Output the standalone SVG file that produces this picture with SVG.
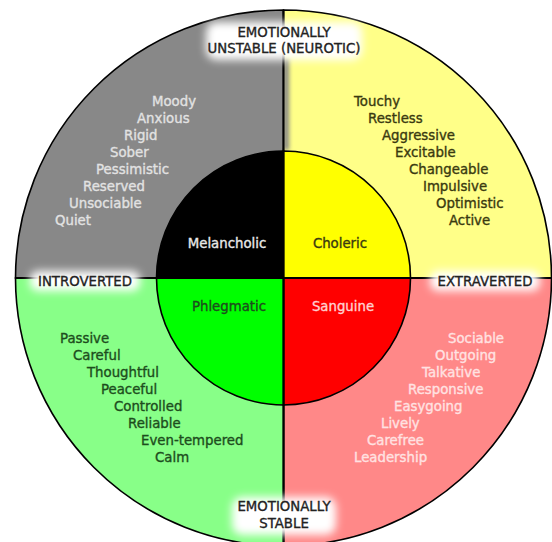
<svg xmlns="http://www.w3.org/2000/svg" width="552" height="542" viewBox="0 0 552 542">
<defs>
<filter id="glow" x="-30%" y="-50%" width="160%" height="200%"><feGaussianBlur stdDeviation="4"/></filter>
<filter id="smudge" x="-100%" y="-20%" width="300%" height="140%"><feGaussianBlur stdDeviation="2"/></filter>
</defs>
<style>
text{font-family:"DejaVu Sans",Verdana,sans-serif;font-size:13.3px;stroke-width:0.35px}
.q{stroke:#000;stroke-width:1.6}
.l{stroke:#000;stroke-width:2;fill:none}
.g{fill:#e2e2e2;stroke:#e2e2e2}
.y{fill:#3a3a10;stroke:#3a3a10}
.gr{fill:#1d4d1d;stroke:#1d4d1d}
.r{fill:#ffe2e2;stroke:#ffe2e2}
.lab{fill:#222;stroke:#222;text-anchor:middle}
.c{text-anchor:middle}
.halo{fill:#fff;filter:url(#glow)}
</style>
<rect width="552" height="542" fill="#fff"/>
<g id="outer">
<path class="q" fill="#888888" d="M283.5,278 L15.5,278 A268,268 0 0 1 283.5,10 Z"/>
<path class="q" fill="#ffff88" d="M283.5,278 L283.5,10 A268,268 0 0 1 551.5,278 Z"/>
<path class="q" fill="#ff8888" d="M283.5,278 L551.5,278 A268,268 0 0 1 283.5,546 Z"/>
<path class="q" fill="#88ff88" d="M283.5,278 L283.5,546 A268,268 0 0 1 15.5,278 Z"/>
<rect x="283" y="58" width="6" height="92" fill="#888888" filter="url(#smudge)"/>
</g>
<g id="inner">
<path class="q" fill="#000" d="M283.5,278 L156.5,278 A127,127 0 0 1 283.5,151 Z"/>
<path class="q" fill="#ffff00" d="M283.5,278 L283.5,151 A127,127 0 0 1 410.5,278 Z"/>
<path class="q" fill="#ff0000" d="M283.5,278 L410.5,278 A127,127 0 0 1 283.5,405 Z"/>
<path class="q" fill="#00ff00" d="M283.5,278 L283.5,405 A127,127 0 0 1 156.5,278 Z"/>
</g>
<g id="connectors">
<line class="l" x1="283.5" y1="10" x2="283.5" y2="542"/>
<line class="l" x1="15.5" y1="278" x2="551.5" y2="278"/>
</g>
<g id="melancholic">
<text class="c g" x="227" y="248" style="fill:#e8e8e8;stroke:#e8e8e8">Melancholic</text>
<text class="g" x="152" y="106">Moody</text>
<text class="g" x="137" y="123">Anxious</text>
<text class="g" x="124" y="140">Rigid</text>
<text class="g" x="110" y="157">Sober</text>
<text class="g" x="96" y="174">Pessimistic</text>
<text class="g" x="83" y="191">Reserved</text>
<text class="g" x="69" y="208">Unsociable</text>
<text class="g" x="55" y="225">Quiet</text>
</g>
<g id="choleric">
<text class="c y" x="340" y="248">Choleric</text>
<text class="y" x="354" y="106">Touchy</text>
<text class="y" x="368" y="123">Restless</text>
<text class="y" x="382" y="140">Aggressive</text>
<text class="y" x="395" y="157">Excitable</text>
<text class="y" x="409" y="174">Changeable</text>
<text class="y" x="423" y="191">Impulsive</text>
<text class="y" x="436" y="208">Optimistic</text>
<text class="y" x="449" y="225">Active</text>
</g>
<g id="phlegmatic">
<text class="c gr" x="229" y="311">Phlegmatic</text>
<text class="gr" x="60" y="343">Passive</text>
<text class="gr" x="73" y="360">Careful</text>
<text class="gr" x="87" y="377">Thoughtful</text>
<text class="gr" x="101" y="394">Peaceful</text>
<text class="gr" x="114" y="411">Controlled</text>
<text class="gr" x="128" y="428">Reliable</text>
<text class="gr" x="141" y="445">Even-tempered</text>
<text class="gr" x="155" y="462">Calm</text>
</g>
<g id="sanguine">
<text class="c r" x="343" y="311" style="fill:#ffd0d0;stroke:#ffd0d0">Sanguine</text>
<text class="r" x="448" y="343">Sociable</text>
<text class="r" x="435" y="360">Outgoing</text>
<text class="r" x="422" y="377">Talkative</text>
<text class="r" x="408" y="394">Responsive</text>
<text class="r" x="394" y="411">Easygoing</text>
<text class="r" x="381" y="428">Lively</text>
<text class="r" x="367" y="445">Carefree</text>
<text class="r" x="354" y="462">Leadership</text>
</g>
<g id="label-unstable">
<rect class="halo" x="206" y="22" width="156" height="38" rx="10"/>
<text class="lab" x="284" y="37">EMOTIONALLY</text>
<text class="lab" x="284" y="53">UNSTABLE (NEUROTIC)</text>
</g>
<g id="label-introverted">
<rect class="halo" x="30" y="271" width="110" height="20" rx="8"/>
<text class="lab" x="85" y="286">INTROVERTED</text>
</g>
<g id="label-extraverted">
<rect class="halo" x="430" y="271" width="110" height="20" rx="8"/>
<text class="lab" x="485" y="286">EXTRAVERTED</text>
</g>
<g id="label-stable">
<rect class="halo" x="232" y="497" width="104" height="38" rx="10"/>
<text class="lab" x="284" y="511">EMOTIONALLY</text>
<text class="lab" x="284" y="528">STABLE</text>
</g>
</svg>
